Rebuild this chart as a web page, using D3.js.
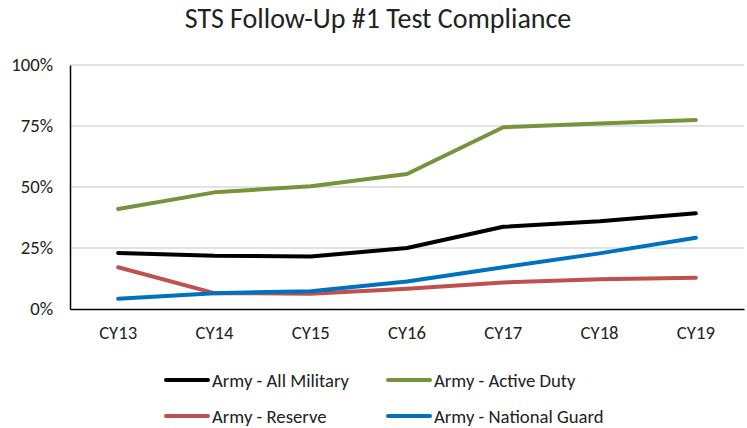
<!DOCTYPE html>
<html>
<head>
<meta charset="utf-8">
<script src="https://cdn.jsdelivr.net/npm/d3@7"></script>
<style>
  body { margin: 0; background: #fff; }
  text { font-family: Carlito, "Liberation Sans Narrow", "Open Sans", sans-serif; fill: #222; }
</style>
</head>
<body>
<svg id="chart" width="747" height="428"></svg>
<script>
// data
var years = ["CY13", "CY14", "CY15", "CY16", "CY17", "CY18", "CY19"];
var allMilitary = [23, 21.8, 21.5, 25, 33.7, 36, 39.2];
var activeDuty = [41, 47.8, 50.3, 55.3, 74.5, 76, 77.5];
var reserve = [17.1, 6.5, 6.3, 8.3, 10.9, 12.2, 12.8];
var nationalGuard = [4.2, 6.5, 7.3, 11.3, 17.1, 22.8, 29.2];
var yTicks = [0, 25, 50, 75, 100];
var seriesNames = ["Army - All Military", "Army - Active Duty", "Army - Reserve", "Army - National Guard"];
var seriesColors = ["#000000", "#77933C", "#C0504D", "#0070C0"];

var series = [allMilitary, activeDuty, reserve, nationalGuard].map(function(v, i) {
	return {name: seriesNames[i], color: seriesColors[i], values: v};
});

var svg = d3.select("#chart");
// plot area (no "top" name: window.top is read-only)
var plotLeft = 70, plotRight = 744, plotTop = 65, plotBottom = 309;

var x = d3.scaleBand().domain(years).range([plotLeft, plotRight]);
var y = d3.scaleLinear().domain([0, 100]).range([plotBottom, plotTop]);

// title
svg.append("text")
	.attr("x", 378).attr("y", 28)
	.attr("text-anchor", "middle")
	.style("font-size", "28px")
	.text("STS Follow-Up #1 Test Compliance");

// gridlines
svg.append("g").selectAll("line")
	.data(yTicks.slice(1))
	.enter().append("line")
	.attr("x1", plotLeft).attr("x2", plotRight)
	.attr("y1", function(d) { return y(d); })
	.attr("y2", function(d) { return y(d); })
	.attr("stroke", "#d9d9d9")
	.attr("stroke-width", 1.5);

// y axis
var yAxis = svg.append("g")
	.attr("transform", "translate(" + plotLeft + ",0)")
	.call(d3.axisLeft(y).tickValues(yTicks).tickSize(0).tickPadding(17).tickFormat(function(d) { return d + "%"; }));
yAxis.select(".domain").attr("stroke", "#000").attr("stroke-width", 1.5);
yAxis.selectAll("text").style("font-size", "18.7px").style("font-family", null);

// x axis
var xAxis = svg.append("g")
	.attr("transform", "translate(0," + plotBottom + ")")
	.call(d3.axisBottom(x).tickSize(0).tickPadding(17));
xAxis.select(".domain").attr("stroke", "#000").attr("stroke-width", 1.5);
xAxis.selectAll("text").style("font-size", "18.7px").style("font-family", null);

// lines
var line = d3.line()
	.x(function(d, i) { return x(years[i]) + x.bandwidth() / 2; })
	.y(function(d) { return y(d); });

svg.append("g").selectAll("path")
	.data(series)
	.enter().append("path")
	.attr("d", function(d) { return line(d.values); })
	.attr("fill", "none")
	.attr("stroke", function(d) { return d.color; })
	.attr("stroke-width", 4)
	.attr("stroke-linecap", "round")
	.attr("stroke-linejoin", "round");

// legend
var legend = svg.append("g").selectAll("g")
	.data(series)
	.enter().append("g")
	.attr("transform", function(d, i) {
		return "translate(" + (i % 2 === 0 ? 166 : 388) + "," + (i < 2 ? 380 : 416) + ")";
	});
legend.append("line")
	.attr("x1", 0).attr("x2", 42)
	.attr("stroke", function(d) { return d.color; })
	.attr("stroke-width", 4)
	.attr("stroke-linecap", "round");
legend.append("text")
	.attr("x", 46).attr("dy", "0.35em")
	.style("font-size", "18.7px")
	.text(function(d) { return d.name; });
</script>
</body>
</html>
